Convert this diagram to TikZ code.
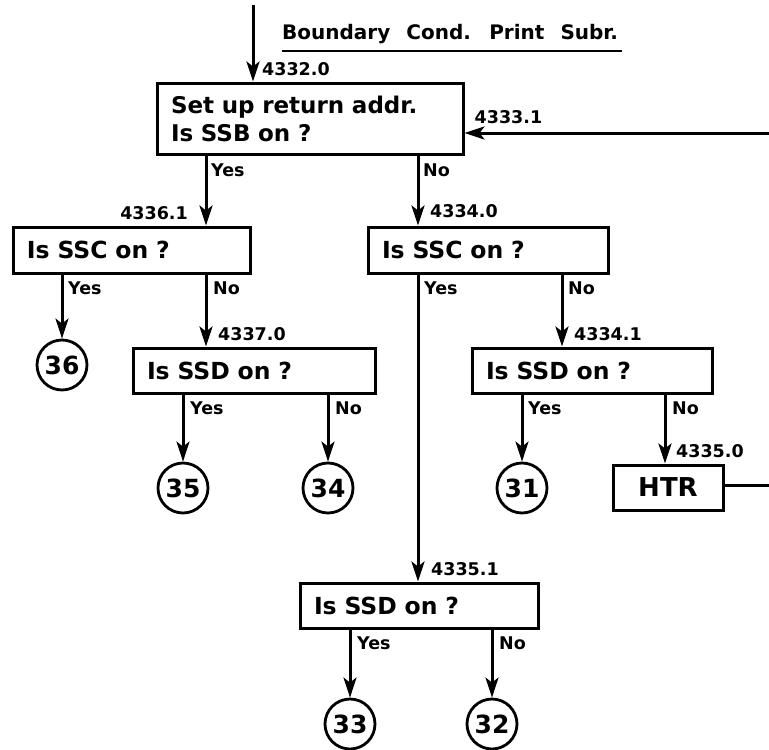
\documentclass[tikz,border=0pt]{standalone}
\usepackage{fontspec}
\setmainfont{DejaVu Sans}
\newfontfamily\boxfont{DejaVu Sans}[WordSpace=2.3]
\usetikzlibrary{arrows.meta,calc}
\begin{document}
\begin{tikzpicture}[x=1pt,y=-1pt,
  line/.style={line width=3pt},
  arr/.style={line width=3pt,-{Stealth[length=20pt,width=13pt,inset=5pt]}},
  box/.style={draw,line width=3pt,inner xsep=14pt,inner ysep=0pt,align=left,font=\boxfont\bfseries\fontsize{23.5}{28}\selectfont},
  conn/.style={draw,circle,line width=2.8pt,minimum size=50pt,inner sep=0pt,font=\bfseries\fontsize{25}{25}\selectfont},
  lab/.style={inner sep=1pt,font=\bfseries\fontsize{17.5}{17.5}\selectfont}]
\useasboundingbox (0,0) rectangle (769,750);
% title
\node[anchor=west,inner sep=0pt,font=\boxfont\bfseries\fontsize{20}{20}\selectfont] (title) at (282,34) {Boundary Cond. Print Subr.};
\draw[line width=2.4pt] ($(title.south west)+(0,7)$) -- ($(title.south east)+(4,7)$);
% boxes
\node[box,minimum width=306pt,minimum height=71pt,text width=278pt,font=\boxfont\bfseries\fontsize{23}{28}\selectfont] (b1) at (310,118.5) {Set up return addr.\\Is SSB on ?};
\node[box,minimum height=46pt,text width=209pt] (sscl) at (131.5,250) {Is SSC on ?};
\node[box,minimum height=46pt,text width=212pt] (sscm) at (488,250) {Is SSC on ?};
\node[box,minimum height=45pt,text width=214pt] (ssdl) at (254,370.5) {Is SSD on ?};
\node[box,minimum height=45pt,text width=212pt] (ssdm) at (592,370.5) {Is SSD on ?};
\node[box,minimum height=45pt,text width=210pt] (ssdb) at (419,605.5) {Is SSD on ?};
\node[box,minimum width=110pt,minimum height=45pt,align=center,font=\boxfont\bfseries\fontsize{26}{26}\selectfont] (htr) at (668,487.5) {HTR};
% connectors (circles)
\node[conn] (c36) at (62,365) {36};
\node[conn] (c35) at (183,488) {35};
\node[conn] (c34) at (328,488) {34};
\node[conn] (c31) at (522,488) {31};
\node[conn] (c33) at (350,724) {33};
\node[conn] (c32) at (492,724) {32};
% line positions
\coordinate (xA) at (253,0);
\coordinate (xB) at (206,0);
\coordinate (xC) at (418,0);
\coordinate (xD) at (562,0);
\coordinate (xE) at (665,0);
\coordinate (top) at (253,5);
\coordinate (rin) at (769,133);
\coordinate (hout) at (769,485);
% flow lines
\draw[arr] (top) -- (top |- b1.north);
\draw[arr] (rin) -- (rin -| b1.east);
\draw[arr] (b1.south -| xB) -- (sscl.north -| xB);
\draw[arr] (b1.south -| xC) -- (sscm.north -| xC);
\draw[arr] (sscl.south -| c36) -- (c36.north);
\draw[arr] (sscl.south -| xB) -- (ssdl.north -| xB);
\draw[arr] (ssdl.south -| c35) -- (c35.north);
\draw[arr] (ssdl.south -| c34) -- (c34.north);
\draw[arr] (sscm.south -| xC) -- (ssdb.north -| xC);
\draw[arr] (sscm.south -| xD) -- (ssdm.north -| xD);
\draw[arr] (ssdm.south -| c31) -- (c31.north);
\draw[arr] (ssdm.south -| xE) -- (htr.north -| xE);
\draw[line] (htr.east |- hout) -- (hout);
\draw[arr] (ssdb.south -| c33) -- (c33.north);
\draw[arr] (ssdb.south -| c32) -- (c32.north);
% labels
\node[lab,anchor=south west] (l43320) at ($(b1.north -| xA)+(8,-5)$) {4332.0};
\node[lab,anchor=south west] (l43331) at ($(b1.east |- rin)+(9,-8)$) {4333.1};
\node[lab,anchor=north west] (y1) at ($(b1.south -| xB)+(4,7)$) {Yes};
\node[lab,anchor=north west] (n1) at ($(b1.south -| xC)+(4,7)$) {No};
\node[lab,anchor=south east] (l43361) at ($(sscl.north -| xB)+(-17,-5)$) {4336.1};
\node[lab,anchor=south west] (l43340) at ($(sscm.north -| xC)+(11,-7)$) {4334.0};
\node[lab,anchor=north west] (y2) at ($(sscl.south -| c36)+(5,6)$) {Yes};
\node[lab,anchor=north west] (n2) at ($(sscl.south -| xB)+(6,6)$) {No};
\node[lab,anchor=south west] (l43370) at ($(ssdl.north -| xB)+(11,-5)$) {4337.0};
\node[lab,anchor=north west] (y3) at ($(ssdl.south -| c35)+(6,6)$) {Yes};
\node[lab,anchor=north west] (n3) at ($(ssdl.south -| c34)+(6,6)$) {No};
\node[lab,anchor=north west] (y4) at ($(sscm.south -| xC)+(5,6)$) {Yes};
\node[lab,anchor=north west] (n4) at ($(sscm.south -| xD)+(5,6)$) {No};
\node[lab,anchor=south west] (l43341) at ($(ssdm.north -| xD)+(11,-5)$) {4334.1};
\node[lab,anchor=north west] (y5) at ($(ssdm.south -| c31)+(5,6)$) {Yes};
\node[lab,anchor=north west] (n5) at ($(ssdm.south -| xE)+(6,6)$) {No};
\node[lab,anchor=south west] (l43350) at ($(htr.north -| xE)+(10,-5)$) {4335.0};
\node[lab,anchor=south west] (l43351) at ($(ssdb.north -| xC)+(12,-5)$) {4335.1};
\node[lab,anchor=north west] (y6) at ($(ssdb.south -| c33)+(6,6)$) {Yes};
\node[lab,anchor=north west] (n6) at ($(ssdb.south -| c32)+(6,6)$) {No};
\end{tikzpicture}
\end{document}
